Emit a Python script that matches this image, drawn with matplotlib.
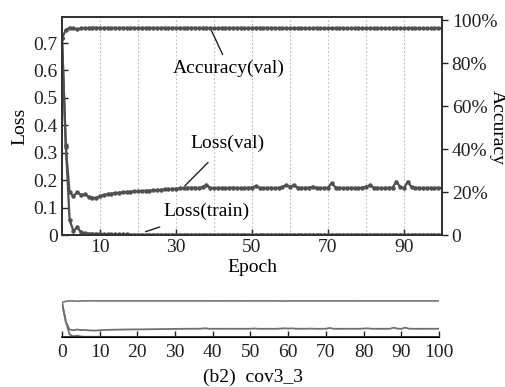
import numpy as np
import matplotlib
matplotlib.use("Agg")
import matplotlib.pyplot as plt

plt.rcParams['font.family'] = ['Liberation Serif', 'DejaVu Serif']
plt.rcParams['font.size'] = 14

epochs = list(range(0, 101))

loss_train = [0.72, 0.33, 0.055, 0.015, 0.028, 0.010, 0.006, 0.005, 0.005, 0.004,
              0.005, 0.003, 0.003, 0.002, 0.002, 0.002, 0.002, 0.002, 0.001, 0.001] + [0.001] * 81

loss_val = [0.72, 0.32, 0.155, 0.142, 0.156, 0.146, 0.148, 0.140, 0.136, 0.135,
            0.142, 0.146, 0.149, 0.151, 0.153, 0.154, 0.156, 0.157, 0.158, 0.159,
            0.159, 0.160, 0.161, 0.162, 0.163, 0.164, 0.165, 0.166, 0.167, 0.168,
            0.169, 0.170, 0.171, 0.172, 0.172, 0.173, 0.171, 0.175, 0.183, 0.172,
            0.171, 0.172, 0.172, 0.171, 0.172, 0.173, 0.172, 0.171, 0.172, 0.172,
            0.173, 0.178, 0.172, 0.171, 0.172, 0.172, 0.171, 0.172, 0.176, 0.182,
            0.176, 0.181, 0.173, 0.172, 0.172, 0.173, 0.176, 0.172, 0.171, 0.172,
            0.173, 0.189, 0.173, 0.172, 0.171, 0.172, 0.172, 0.172, 0.171, 0.173,
            0.176, 0.181, 0.173, 0.172, 0.171, 0.172, 0.172, 0.173, 0.195, 0.175,
            0.171, 0.195, 0.174, 0.172, 0.172, 0.171, 0.172, 0.172, 0.171, 0.172,
            0.172]

acc_val = [0.915, 0.955, 0.965, 0.963, 0.957, 0.962, 0.963, 0.964, 0.965, 0.965,
           0.964, 0.964, 0.964, 0.964, 0.964, 0.964, 0.964, 0.964, 0.964, 0.964,
           0.964, 0.964, 0.964, 0.964, 0.964, 0.964, 0.964, 0.964, 0.964, 0.964,
           0.964, 0.964, 0.964, 0.964, 0.964, 0.964, 0.964, 0.964, 0.964, 0.964,
           0.963, 0.963, 0.964, 0.964, 0.964, 0.964, 0.964, 0.964, 0.963, 0.964,
           0.964, 0.964, 0.964, 0.964, 0.964, 0.964, 0.964, 0.963, 0.962, 0.962,
           0.963, 0.963, 0.963, 0.963, 0.963, 0.963, 0.963, 0.963, 0.963, 0.963,
           0.963, 0.963, 0.963, 0.963, 0.963, 0.963, 0.963, 0.962, 0.962, 0.963,
           0.963, 0.963, 0.963, 0.963, 0.963, 0.963, 0.963, 0.963, 0.963, 0.963,
           0.962, 0.963, 0.963, 0.963, 0.963, 0.963, 0.963, 0.963, 0.963, 0.963,
           0.963]

loss_ticks = [0, 0.1, 0.2, 0.3, 0.4, 0.5, 0.6, 0.7]
loss_ticklabels = ['0', '0.1', '0.2', '0.3', '0.4', '0.5', '0.6', '0.7']
acc_ticks = [0, 0.2, 0.4, 0.6, 0.8, 1.0]
acc_ticklabels = ['0', '20%', '40%', '60%', '80%', '100%']

line_c = '#505050'
W, H = 506, 387
fig = plt.figure(figsize=(W / 100, H / 100), dpi=100)

# main panel
ax = fig.add_axes([62 / W, 1 - 235 / H, 380 / W, 218 / H])
ax2 = ax.twinx()
ax.set_xlim(0, 100)
ax.set_ylim(0, 0.795)
ax2.set_ylim(0, 1.015)

for x in range(10, 100, 10):
    ax.axvline(x, color='#bbbbbb', ls=(0, (1.5, 2)), lw=0.8, zorder=0)

mk = dict(marker='o', markersize=2.2, lw=1.6, color=line_c)
ax.plot(epochs, loss_train, **mk)
ax.plot(epochs, loss_val, **mk)
ax2.plot(epochs, acc_val, **mk)

ax.set_xticks([10, 30, 50, 70, 90])
ax.set_yticks(loss_ticks)
ax.set_yticklabels(loss_ticklabels)
ax2.set_yticks(acc_ticks)
ax2.set_yticklabels(acc_ticklabels)
ax.tick_params(axis='both', direction='in', length=4, width=1, pad=3, colors='#222222')
ax2.tick_params(axis='y', direction='out', length=4, width=1, pad=3, colors='#222222')
for a in (ax, ax2):
    for s in a.spines.values():
        s.set_linewidth(1.4)
        s.set_color('#333333')

ax.set_xlabel('Epoch', labelpad=2)
ax.set_ylabel('Loss', labelpad=4)
fig.text(497 / W, 1 - 127 / H, 'Accuracy', rotation=-90, ha='center', va='center')

ax2.annotate('Accuracy(val)', xy=(39, 0.964), xytext=(44, 0.775),
             ha='center', va='center', arrowprops=dict(arrowstyle='-', color='#222222', lw=1))
ax.annotate('Loss(val)', xy=(31.8, 0.172), xytext=(43.5, 0.335),
            ha='center', va='center', arrowprops=dict(arrowstyle='-', color='#222222', lw=1,
                                                      shrinkA=8))
ax.annotate('Loss(train)', xy=(21.3, 0.009), xytext=(38, 0.085),
            ha='center', va='center', arrowprops=dict(arrowstyle='-', color='#222222', lw=1,
                                                      shrinkA=9))

# overview panel
bx = fig.add_axes([62 / W, 1 - 337 / H, 377 / W, 38 / H])
bx2 = bx.twinx()
bx.set_xlim(0, 100)
bx.set_ylim(0, 0.795)
bx2.set_ylim(0, 1.015)
bx.plot(epochs, loss_train, color='#707070', lw=1.3)
bx.plot(epochs, loss_val, color='#707070', lw=1.3)
bx2.plot(epochs, acc_val, color='#808080', lw=1.3)
bx.set_xticks(range(0, 101, 10))
bx.set_yticks([])
bx2.set_yticks([])
bx.tick_params(axis='x', direction='in', length=4, width=1, pad=5, colors='#222222')
for a in (bx, bx2):
    for k in ('left', 'right', 'top'):
        a.spines[k].set_visible(False)
bx.spines['bottom'].set_linewidth(1.4)
bx.spines['bottom'].set_color('#333333')

fig.text(253 / W, 1 - 377 / H, '(b2)  cov3_3', ha='center', va='center')

fig.savefig('out.png', dpi=100)
